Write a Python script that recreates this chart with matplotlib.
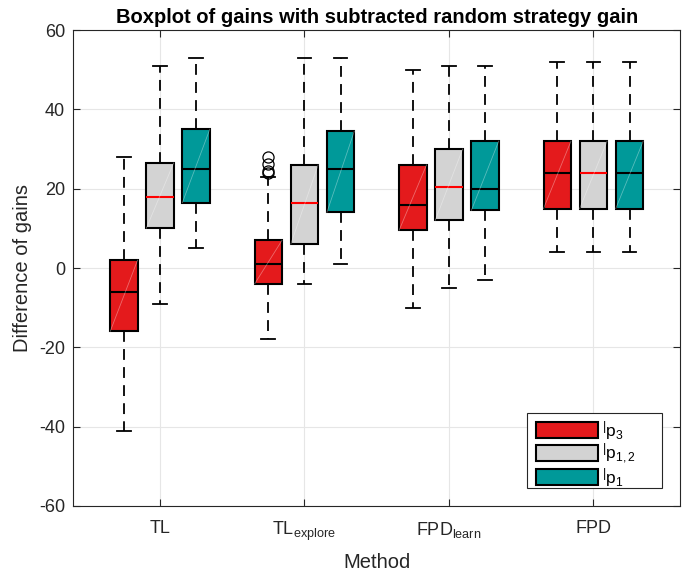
import numpy as np
import matplotlib
matplotlib.use("Agg")
import matplotlib.pyplot as plt
from matplotlib.patches import Patch, Rectangle

plt.rcParams['font.family'] = ['Liberation Sans', 'DejaVu Sans']
plt.rcParams['mathtext.fontset'] = 'custom'
plt.rcParams['mathtext.rm'] = 'Liberation Sans'
plt.rcParams['mathtext.it'] = 'Liberation Sans'
plt.rcParams['axes.unicode_minus'] = False

# methods on the x axis
methods = [r'TL', r'TL$_{\rm explore}$', r'FPD$_{\rm learn}$', r'FPD']
series = ['p_{3}', 'p_{1,2}', 'p_{1}']

# box stats per series, one value per method: low whisker, q1, median, q3, high whisker
p3_low = [-41, -18, -10, 4]
p3_q1 = [-16, -4, 9.5, 15]
p3_med = [-6, 1, 16, 24]
p3_q3 = [2, 7, 26, 32]
p3_high = [28, 23, 50, 52]
p3_fliers = [[], [24, 24.5, 26.3, 28], [], []]

p12_low = [-9, -4, -5, 4]
p12_q1 = [10, 6, 12, 15]
p12_med = [18, 16.5, 20.5, 24]
p12_q3 = [26.5, 26, 30, 32]
p12_high = [51, 53, 51, 52]

p1_low = [5, 1, -3, 4]
p1_q1 = [16.5, 14, 14.5, 15]
p1_med = [25, 25, 20, 24]
p1_q3 = [35, 34.5, 32, 32]
p1_high = [53, 53, 51, 52]

colors = ['#e41a1c', '#d3d3d3', '#009999']
median_colors = ['black', 'red', 'black']

ink = '#262626'

fig = plt.figure(figsize=(6.97, 5.75), dpi=100)
ax = fig.add_axes([0.1052, 0.12, 0.8705, 0.8278])

groups = [
    (p3_low, p3_q1, p3_med, p3_q3, p3_high, p3_fliers),
    (p12_low, p12_q1, p12_med, p12_q3, p12_high, [[]] * 4),
    (p1_low, p1_q1, p1_med, p1_q3, p1_high, [[]] * 4),
]
offsets = [-0.25, 0.0, 0.25]
width = 0.19
centers = np.arange(1, len(methods) + 1)

for k, (lo, q1, med, q3, hi, fl) in enumerate(groups):
    stats = []
    for i in range(len(methods)):
        stats.append(dict(whislo=lo[i], q1=q1[i], med=med[i], q3=q3[i],
                          whishi=hi[i], fliers=fl[i]))
    pos = centers + offsets[k]
    ax.bxp(stats, positions=pos, widths=width, patch_artist=True,
           showfliers=True, manage_ticks=False,
           boxprops=dict(facecolor=colors[k], edgecolor='black', linewidth=1.5),
           medianprops=dict(color=median_colors[k], linewidth=1.5),
           whiskerprops=dict(color='black', linestyle=(0, (6, 4)), linewidth=1.3),
           capprops=dict(color='black', linewidth=1.3),
           capwidths=width / 2,
           flierprops=dict(marker='o', markerfacecolor='none',
                           markeredgecolor='black', markersize=8, markeredgewidth=0.9))
    # faint diagonal seen inside the boxes
    for i in range(len(methods)):
        ax.plot([pos[i] - width / 2, pos[i] + width / 2], [q1[i], q3[i]],
                color='white', alpha=0.35, linewidth=0.6, zorder=3)

ax.set_xlim(0.4, 4.6)
ax.set_ylim(-60, 60)
ax.set_xticks(centers)
ax.set_xticklabels(methods)
ax.set_yticks(np.arange(-60, 61, 20))
ax.tick_params(labelsize=13)
ax.tick_params(direction='in', length=5, top=True, right=True, colors=ink,
               labelcolor=ink, width=0.8)
ax.tick_params(axis='x', pad=10)
ax.tick_params(axis='y', pad=6)
ax.grid(True, color='#e6e6e6', linewidth=0.8)
ax.set_axisbelow(True)
for s in ax.spines.values():
    s.set_color(ink)
    s.set_linewidth(0.8)

ax.set_title('Boxplot of gains with subtracted random strategy gain',
             fontsize=14.5, fontweight='bold', pad=5)
ax.set_xlabel('Method', fontsize=14.5, color=ink, labelpad=7)
ax.set_ylabel('Difference of gains', fontsize=14.5, color=ink, labelpad=5)

# legend frame drawn separately (it is wider than the entries)
ax.add_patch(Rectangle((0.748, 0.038), 0.222, 0.157, transform=ax.transAxes,
                       facecolor='white', edgecolor=ink, linewidth=0.8, zorder=4))
handles = [Patch(facecolor=colors[k], edgecolor='black', linewidth=1.5)
           for k in range(3)]
labels = ['$^{\\mathregular{|}}\\mathregular{' + s + '}$' for s in series]
leg = ax.legend(handles, labels, loc='center left', bbox_to_anchor=(0.762, 0.110),
                fontsize=12.5, handlelength=3.6, handleheight=1.0, handletextpad=0.2,
                labelspacing=0.0, borderpad=0.0, borderaxespad=0.0, frameon=False)
leg.set_zorder(5)

fig.savefig('out.png', dpi=100)
